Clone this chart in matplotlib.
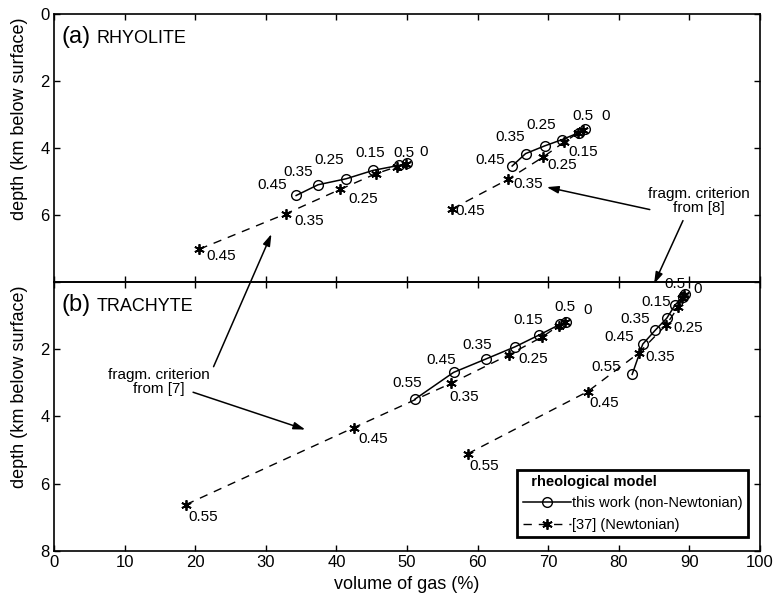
import matplotlib.pyplot as plt

plt.rcParams['font.family'] = ['Liberation Sans', 'DejaVu Sans']

# (a) rhyolite: two fragmentation criteria, each with non-Newtonian (circles) and Newtonian (stars) model
rhy_nn1_x = [34.3, 37.4, 41.4, 45.2, 48.9, 50.0]
rhy_nn1_y = [5.42, 5.10, 4.92, 4.67, 4.52, 4.46]
rhy_nn1_lab = ['0.45', '0.35', '0.25', '0.15', '0.5', '0']
rhy_nw1_x = [20.6, 32.8, 40.5, 45.6, 48.6, 49.8]
rhy_nw1_y = [7.02, 5.97, 5.24, 4.77, 4.56, 4.48]
rhy_nw1_lab = ['0.45', '0.35', '0.25', None, None, None]

rhy_nn2_x = [64.9, 66.8, 69.5, 72.0, 74.4, 75.2]
rhy_nn2_y = [4.54, 4.17, 3.94, 3.75, 3.54, 3.45]
rhy_nn2_lab = ['0.45', '0.35', '0.25', None, '0.5', '0']
rhy_nw2_x = [56.4, 64.3, 69.3, 72.3, 74.2, 75.0]
rhy_nw2_y = [5.82, 4.94, 4.27, 3.82, 3.56, 3.47]
rhy_nw2_lab = ['0.45', '0.35', '0.25', '0.15', None, None]

# (b) trachyte
tra_nn1_x = [51.1, 56.6, 61.2, 65.3, 68.7, 71.7, 72.6]
tra_nn1_y = [3.49, 2.69, 2.29, 1.93, 1.58, 1.26, 1.18]
tra_nn1_lab = ['0.55', '0.45', '0.35', None, '0.15', '0.5', '0']
tra_nw1_x = [18.7, 42.5, 56.2, 64.4, 69.2, 71.5, 72.4]
tra_nw1_y = [6.62, 4.33, 3.02, 2.17, 1.63, 1.30, 1.20]
tra_nw1_lab = ['0.55', '0.45', '0.35', '0.25', None, None, None]

tra_nn2_x = [81.9, 83.4, 85.2, 86.8, 88.0, 89.1, 89.4]
tra_nn2_y = [2.75, 1.85, 1.43, 1.08, 0.68, 0.45, 0.36]
tra_nn2_lab = ['0.55', '0.45', '0.35', None, '0.15', '0.5', '0']
tra_nw2_x = [58.6, 75.6, 82.8, 86.7, 88.4, 89.0, 89.3]
tra_nw2_y = [5.11, 3.26, 2.12, 1.28, 0.76, 0.48, 0.38]
tra_nw2_lab = ['0.55', '0.45', '0.35', '0.25', None, None, None]

# label offsets in pixels (dx, dy up)
rhy_nn1_off = [(-24, 10), (-20, 13), (-17, 19), (-3, 17), (5, 12), (17, 11)]
rhy_nw1_off = [(22, -7), (24, -7), (23, -10), None, None, None]
rhy_nn2_off = [(-22, 6), (-15, 17), (-3, 21), None, (4, 17), (21, 13)]
rhy_nw2_off = [(18, -2), (20, -5), (19, -8), (19, -10), None, None]
tra_nn1_off = [(-8, 16), (-12, 12), (-9, 14), None, (-11, 15), (5, 17), (21, 12)]
tra_nw1_off = [(17, -12), (19, -11), (13, -14), (25, -4), None, None, None]
tra_nn2_off = [(-26, 7), (-24, 7), (-20, 11), None, (-19, 3), (-8, 13), (13, 5)]
tra_nw2_off = [(17, -12), (17, -11), (22, -4), (22, -3), None, None, None]

nn_style = dict(color='k', ls='-', lw=1.1, marker='o', ms=7, mfc='none', mec='k', mew=1.0)
nw_style = dict(color='k', ls=(0, (6, 5)), lw=1.0, marker=(6, 2, 0), ms=7.5, mec='k', mew=1.3)


def series(ax, x, y, labels, offsets, style, label=None):
    line, = ax.plot(x, y, label=label, **style)
    for xi, yi, lab, off in zip(x, y, labels, offsets):
        if lab is not None:
            ax.annotate(lab, (xi, yi), xytext=off, textcoords='offset pixels',
                        ha='center', va='center', fontsize=11)
    return line


fig = plt.figure(figsize=(7.74, 6.05), dpi=100)
ax1 = fig.add_axes([0.0698, 0.534, 0.912, 0.443])
ax2 = fig.add_axes([0.0698, 0.0893, 0.912, 0.4447])

for ax in (ax1, ax2):
    ax.patch.set_facecolor('none')
    ax.set_xlim(0, 100)
    ax.set_ylim(8, 0)
    ax.set_xticks(range(0, 101, 10))
    ax.tick_params(direction='in', top=True, right=True, length=4.5, width=1.0,
                   labelsize=12, pad=3)
    for s in ax.spines.values():
        s.set_linewidth(1.2)
    ax.set_ylabel('depth (km below surface)', fontsize=13)
    ax.yaxis.set_label_coords(-0.037, 0.61)

ax1.set_yticks([0, 2, 4, 6])
ax1.tick_params(labelbottom=False)
ax2.set_yticks([0, 2, 4, 6, 8])
ax2.set_yticklabels(['', '2', '4', '6', '8'])
ax2.set_xlabel('volume of gas (%)', fontsize=13, labelpad=4)

series(ax1, rhy_nn1_x, rhy_nn1_y, rhy_nn1_lab, rhy_nn1_off, nn_style)
series(ax1, rhy_nw1_x, rhy_nw1_y, rhy_nw1_lab, rhy_nw1_off, nw_style)
series(ax1, rhy_nn2_x, rhy_nn2_y, rhy_nn2_lab, rhy_nn2_off, nn_style)
series(ax1, rhy_nw2_x, rhy_nw2_y, rhy_nw2_lab, rhy_nw2_off, nw_style)

h1 = series(ax2, tra_nn1_x, tra_nn1_y, tra_nn1_lab, tra_nn1_off, nn_style,
            label='this work (non-Newtonian)')
h2 = series(ax2, tra_nw1_x, tra_nw1_y, tra_nw1_lab, tra_nw1_off, nw_style,
            label='[37] (Newtonian)')
series(ax2, tra_nn2_x, tra_nn2_y, tra_nn2_lab, tra_nn2_off, nn_style)
series(ax2, tra_nw2_x, tra_nw2_y, tra_nw2_lab, tra_nw2_off, nw_style)

ax1.text(0.01, 0.915, '(a)', transform=ax1.transAxes, fontsize=17, va='center')
ax1.text(0.0605, 0.91, 'RHYOLITE', transform=ax1.transAxes, fontsize=13, va='center')
ax2.text(0.01, 0.915, '(b)', transform=ax2.transAxes, fontsize=17, va='center')
ax2.text(0.0605, 0.91, 'TRACHYTE', transform=ax2.transAxes, fontsize=13, va='center')

arrow = dict(arrowstyle='-|>,head_length=0.7,head_width=0.22', color='k', lw=1.1,
             shrinkA=0, shrinkB=0)

# fragm. criterion from [8]
ax1.text(91.4, 5.58, 'fragm. criterion\nfrom [8]', ha='center', va='center',
         fontsize=11, linespacing=1.05)
ax1.annotate('', xy=(69.8, 5.17), xytext=(84.4, 5.84), arrowprops=arrow)
ax1.annotate('', xy=(85.0, 8.06), xytext=(89.1, 6.17), arrowprops=arrow,
             annotation_clip=False)

# fragm. criterion from [7]
ax2.text(14.9, 2.97, 'fragm. criterion\nfrom [7]', ha='center', va='center',
         fontsize=11, linespacing=1.05)
ax2.annotate('', xy=(35.6, 4.39), xytext=(19.7, 3.28), arrowprops=arrow)
ax2.annotate('', xy=(30.8, 6.57), xycoords=ax1.transData, xytext=(22.6, 2.52),
             textcoords=ax2.transData, arrowprops=arrow, annotation_clip=False)

leg = ax2.legend(handles=[h1, h2], title='  rheological model', loc='lower right',
                 bbox_to_anchor=(0.983, 0.053), fontsize=10.5, handlelength=3.3,
                 handletextpad=0.1, borderpad=0.35, borderaxespad=0,
                 fancybox=False, framealpha=1, edgecolor='k', alignment='left',
                 title_fontproperties={'weight': 'bold', 'size': 10.5})
leg.get_frame().set_linewidth(2.0)

fig.savefig('out.png', dpi=100)
